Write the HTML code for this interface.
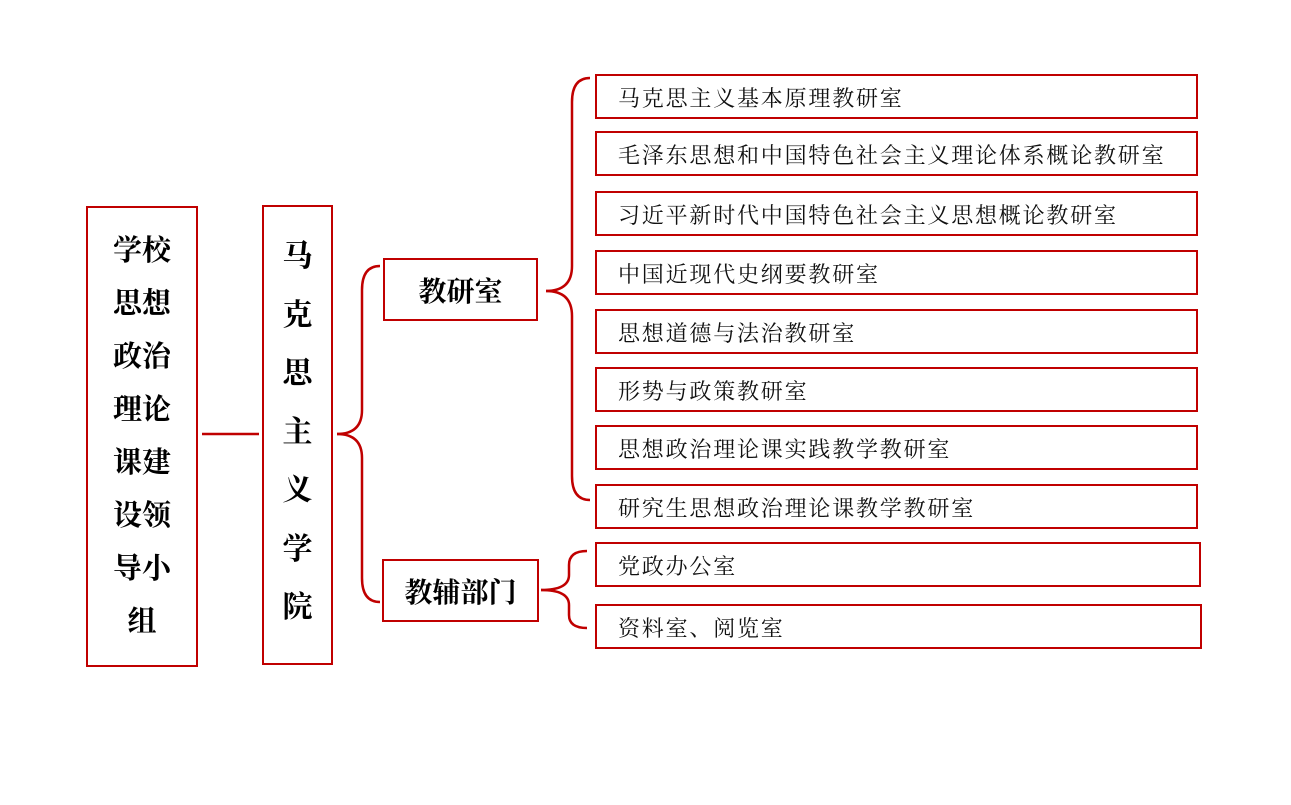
<!DOCTYPE html>
<html><head><meta charset="utf-8"><style>
body{margin:0;background:#fff;width:1291px;height:805px;position:relative;overflow:hidden;font-family:"Liberation Serif","Noto Serif CJK SC",serif;}
.b{position:absolute;border:2.5px solid #C00000;box-sizing:border-box;}
.r{left:595px;width:603px;height:45px;font-size:22px;letter-spacing:1.8px;line-height:45px;padding-left:21px;color:#111;white-space:nowrap;}
.bold{font-weight:bold;color:#000;display:flex;align-items:center;justify-content:center;font-size:28px;}
</style></head><body>
<svg width="1291" height="805" style="position:absolute;left:0;top:0" fill="none" stroke="#C00000" stroke-width="2.5">
<line x1="202" y1="434" x2="259" y2="434"/>
<path d="M337 434 Q362 434 362 410 L362 290 Q362 266 380 266"/>
<path d="M337 434 Q362 434 362 458 L362 578 Q362 602 380 602"/>
<path d="M546 291 Q572 291 572 266 L572 102 Q572 78 590 78"/>
<path d="M546 291 Q572 291 572 316 L572 476 Q572 500 590 500"/>
<path d="M541 590 Q569 590 569 575 L569 565 Q569 551 587 551"/>
<path d="M541 590 Q569 590 569 605 L569 615 Q569 628 587 628"/>
</svg>
<div class="b bold" style="left:86px;top:206px;width:112px;height:461px;font-size:29px;line-height:53px;text-align:center;">学校<br>思想<br>政治<br>理论<br>课建<br>设领<br>导小<br>组</div>
<div class="b bold" style="left:262px;top:205px;width:71px;height:460px;font-size:30px;line-height:58.5px;text-align:center;padding-bottom:4px;">马<br>克<br>思<br>主<br>义<br>学<br>院</div>
<div class="b bold" style="left:383px;top:258px;width:155px;height:63px;">教研室</div>
<div class="b bold" style="left:382px;top:559px;width:157px;height:63px;">教辅部门</div>
<div class="b r" style="top:74px">马克思主义基本原理教研室</div>
<div class="b r" style="top:131px">毛泽东思想和中国特色社会主义理论体系概论教研室</div>
<div class="b r" style="top:191px">习近平新时代中国特色社会主义思想概论教研室</div>
<div class="b r" style="top:250px">中国近现代史纲要教研室</div>
<div class="b r" style="top:309px">思想道德与法治教研室</div>
<div class="b r" style="top:367px">形势与政策教研室</div>
<div class="b r" style="top:425px">思想政治理论课实践教学教研室</div>
<div class="b r" style="top:484px">研究生思想政治理论课教学教研室</div>
<div class="b r" style="top:542px;width:606px">党政办公室</div>
<div class="b r" style="top:604px;width:607px">资料室、阅览室</div>
</body></html>
